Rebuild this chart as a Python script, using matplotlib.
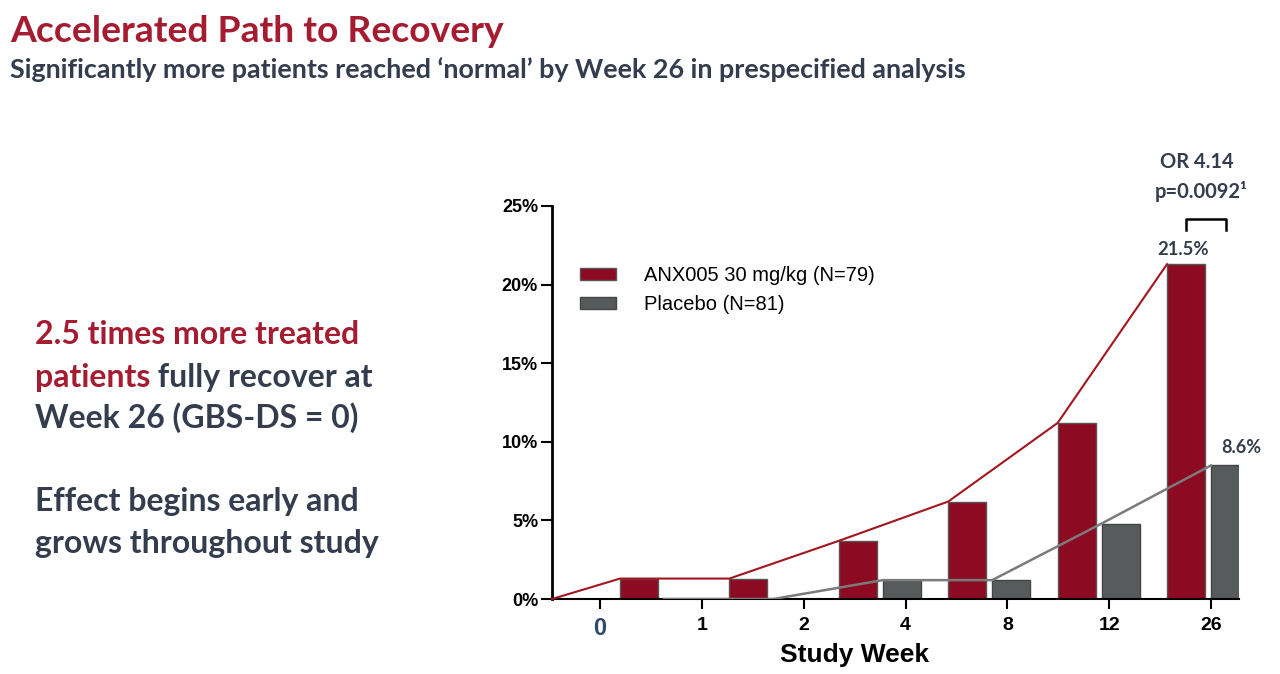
import numpy as np
import matplotlib.pyplot as plt
from matplotlib.patches import Patch
from matplotlib.text import Annotation

# data (% of patients with GBS-DS = 0)
weeks = ["0", "1", "2", "4", "8", "12", "26"]
anx005 = [1.3, 1.3, 3.7, 6.2, 11.2, 21.3]
placebo = [0.0, 0.0, 1.2, 1.2, 4.8, 8.5]
anx_label = "21.5%"
pbo_label = "8.6%"

RED = "#8c0b23"
GREY = "#575b5c"
TITLE_RED = "#a51c30"
SLATE = "#333d4d"

TXT = ["Lato", "DejaVu Sans"]
NARROW = ["Liberation Sans Narrow", "Liberation Sans"]

fig = plt.figure(figsize=(12.8, 6.74), dpi=100)

# headline
fig.text(10/1280, 1-31/674, "Accelerated Path to Recovery", color=TITLE_RED,
         fontsize=26.8, fontweight="bold", family=TXT, va="center", ha="left")
fig.text(10/1280, 1-70/674,
         "Significantly more patients reached \u2018normal\u2019 by Week 26 in prespecified analysis",
         color=SLATE, fontsize=19.4, fontweight="bold", family=TXT, va="center", ha="left")

# left side message
fs = 23
fig.text(35/1280, 1-335/674, "2.5 times more treated", color=TITLE_RED,
         fontsize=fs, fontweight="bold", family=TXT, va="center")
t2 = fig.text(35/1280, 1-377/674, "patients", color=TITLE_RED,
              fontsize=fs, fontweight="bold", family=TXT, va="center")
fig.add_artist(Annotation(" fully recover at", xy=(1, 0), xycoords=t2, va="bottom",
                          ha="left", color=SLATE, fontsize=fs, fontweight="bold",
                          family=TXT, annotation_clip=False))
fig.text(35/1280, 1-418/674, "Week 26 (GBS-DS = 0)", color=SLATE,
         fontsize=fs, fontweight="bold", family=TXT, va="center")
fig.text(35/1280, 1-501/674, "Effect begins early and", color=SLATE,
         fontsize=fs, fontweight="bold", family=TXT, va="center")
fig.text(35/1280, 1-543/674, "grows throughout study", color=SLATE,
         fontsize=fs, fontweight="bold", family=TXT, va="center")

# chart
ax = fig.add_axes([552/1280, 1-599/674, (1239-552)/1280, (599-206)/674])
idx = np.arange(len(anx005))
w = 0.347
off = 0.402
ax.set_xlim(-0.622, 5.658)
ax.set_ylim(0, 25)

ax.bar(idx, anx005, width=w, align="edge", color=RED, edgecolor="#555555",
       linewidth=1, zorder=2)
ax.bar(idx + off, placebo, width=w, align="edge", color=GREY, edgecolor="#444444",
       linewidth=1, zorder=2)

# trend lines through the bar corners
x0 = ax.get_xlim()[0]
ax.plot(np.r_[x0, idx], np.r_[0, anx005], color="#a3151f", lw=1.5, zorder=3,
        clip_on=False)
ax.plot(idx + off, placebo, color="#7b7b7b", lw=1.8, zorder=3)

for s in ["top", "right"]:
    ax.spines[s].set_visible(False)
ax.spines["left"].set_linewidth(2)
ax.spines["bottom"].set_linewidth(1.5)

yt = [0, 5, 10, 15, 20, 25]
ax.set_yticks(yt)
ax.set_yticklabels([f"{v}%" for v in yt], fontweight="bold", family=NARROW, fontsize=13)
ax.tick_params(axis="y", length=8, width=1.5, pad=2)

xt = -0.183 + 0.931 * np.arange(len(weeks))
ax.set_xticks(xt)
ax.set_xticklabels(weeks, fontweight="bold", family=NARROW, fontsize=14)
ax.tick_params(axis="x", length=7, width=1.5, pad=6)
lab0 = ax.get_xticklabels()[0]
lab0.set_color("#2e4a6e")
lab0.set_fontsize(17)

fig.text(855/1280, 1-655/674, "Study Week", fontsize=19, fontweight="bold",
         family=NARROW, ha="center", va="center")

# legend
handles = [Patch(facecolor=RED, edgecolor="#555555", label="ANX005 30 mg/kg (N=79)"),
           Patch(facecolor=GREY, edgecolor="#444444", label="Placebo (N=81)")]
fig.legend(handles=handles, loc="upper left", bbox_to_anchor=(580/1280, 1-266/674),
           frameon=False, prop={"family": "Liberation Sans", "size": 14.5},
           handlelength=1.8, handleheight=0.5, handletextpad=1.4,
           labelspacing=0.5, borderpad=0, borderaxespad=0)

# value labels and significance bracket
last = len(anx005) - 1
ax.text(last + w/2 - 0.03, anx005[last] + 0.4, anx_label, ha="center", va="bottom",
        fontsize=13.3, fontweight="bold", family=TXT, color=SLATE)
ax.text(last + off + w/2 + 0.1, placebo[last] + 0.6, pbo_label, ha="center",
        va="bottom", fontsize=13, fontweight="bold", family=TXT, color=SLATE,
        clip_on=False)
bx = [last + w/2, last + w/2, last + off + w*0.4, last + off + w*0.4]
top = anx005[last] + 2.9
ax.plot(bx, [top - 0.7, top, top, top - 0.7], color="black", lw=1.8, clip_on=False)
ax.text(last + 0.27, 27.8, "OR 4.14", ha="center", va="center", fontsize=14.5,
        fontweight="bold", family=TXT, color=SLATE, clip_on=False)
ax.text(last + 0.31, 25.9, "p=0.0092\u00b9", ha="center", va="center", fontsize=14.5,
        fontweight="bold", family=TXT, color=SLATE, clip_on=False)

fig.savefig("out.png", dpi=100)
